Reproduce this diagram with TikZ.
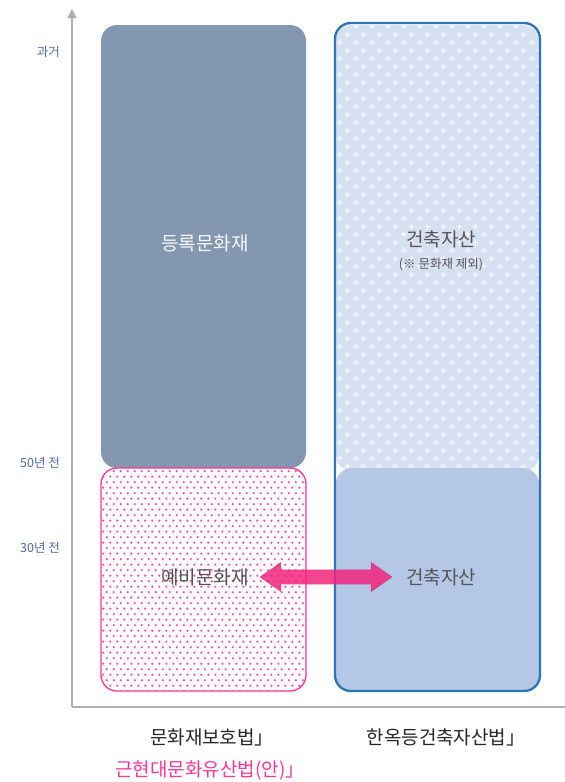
\documentclass[tikz,border=0pt]{standalone}
\usepackage{fontspec}
\setmainfont{Noto Sans CJK KR}
\usepackage{tikz}
\usetikzlibrary{patterns,shapes.arrows,arrows.meta,positioning}

\definecolor{slate}{HTML}{8497B0}
\definecolor{hotpink}{HTML}{FF3399}
\definecolor{linkpink}{HTML}{F2247E}
\definecolor{frameblue}{HTML}{2E75B6}
\definecolor{paleblue}{HTML}{D6E0F2}
\definecolor{softblue}{HTML}{B4C7E7}
\definecolor{axisgray}{HTML}{B0B0B0}
\definecolor{ticklabelblue}{HTML}{4A6AA5}
\definecolor{textgray}{HTML}{555555}

% staggered dots for the pink box
\pgfdeclarepatternformonly{bigdots}{\pgfqpoint{-1pt}{-1pt}}{\pgfqpoint{8pt}{12pt}}{\pgfqpoint{7pt}{11pt}}
{
  \pgfpathcircle{\pgfqpoint{1.75pt}{2.75pt}}{1.25pt}
  \pgfpathcircle{\pgfqpoint{5.25pt}{8.25pt}}{1.25pt}
  \pgfusepath{fill}
}
% small white crosses for the blue box
\pgfdeclarepatternformonly{sparkle}{\pgfqpoint{0pt}{0pt}}{\pgfqpoint{16pt}{16pt}}{\pgfqpoint{16pt}{16pt}}
{
  \pgfsetlinewidth{1.1pt}
  \pgfpathmoveto{\pgfqpoint{1pt}{4pt}}\pgfpathlineto{\pgfqpoint{7pt}{4pt}}
  \pgfpathmoveto{\pgfqpoint{4pt}{1pt}}\pgfpathlineto{\pgfqpoint{4pt}{7pt}}
  \pgfpathmoveto{\pgfqpoint{9pt}{12pt}}\pgfpathlineto{\pgfqpoint{15pt}{12pt}}
  \pgfpathmoveto{\pgfqpoint{12pt}{9pt}}\pgfpathlineto{\pgfqpoint{12pt}{15pt}}
  \pgfusepath{stroke}
}

\begin{document}
\begin{tikzpicture}[x=1pt,y=-1pt,
    box/.style={rectangle, rounded corners=16pt, inner sep=0pt, minimum width=205pt},
    axis/.style={draw=axisgray, line width=1.4pt},
    ticklabel/.style={text=ticklabelblue, inner sep=0pt, anchor=east, font=\fontsize{12.5}{14}\selectfont},
    boxtext/.style={font=\fontsize{19}{21}\selectfont},
    lawtext/.style={font=\fontsize{19}{21}\selectfont, text=black!85}]
    \useasboundingbox (0,0) rectangle (565,782);

    % time axis
    \coordinate (origin) at (72,707);
    \coordinate (past) at (72,9);
    \coordinate (right end) at (565,707);
    \draw[axis, -{Triangle[length=9pt,width=9pt]}] (origin) -- (past);
    \draw[axis] (origin) -- (right end);
    \foreach \y/\t in {52/과거, 463/50년 전, 548/30년 전}
      \node[ticklabel] at (60,\y) {\t};

    % left column
    \node[box, fill=slate, minimum height=443pt] (registered) at (203.5,246.5) {};
    \node[boxtext, text=white!93!slate] at (205,243) {등록문화재};
    \node[box, draw=hotpink, line width=1.3pt, pattern=bigdots, pattern color=hotpink!85,
      minimum height=223pt] (preliminary) at (203.5,579.5) {};
    \node[boxtext, text=textgray] (prelim text) at (205,577) {예비문화재};

    % right column
    \node[box, fill=paleblue, minimum width=203pt, minimum height=446pt] (asset back) at (437.5,248) {};
    \node[box, pattern=sparkle, pattern color=white, minimum width=203pt, minimum height=446pt] (asset top) at (437.5,248) {};
    \node[box, fill=softblue, minimum width=203pt, minimum height=222pt] (asset bottom) at (437.5,579) {};
    \node[box, draw=frameblue, line width=2.4pt, minimum height=668pt] (asset frame) at (437.5,357) {};
    \node[boxtext, text=textgray] (asset text) at (441,239) {건축자산};
    \node[text=textgray, font=\fontsize{12.5}{14}\selectfont, below=3pt of asset text] {(※ 문화재 제외)};
    \node[boxtext, text=textgray] (asset low text) at (441,577) {건축자산};

    % link between the two
    \node[double arrow, fill=linkpink, fill opacity=0.85, draw=linkpink!80!black, draw opacity=0.6,
      line width=0.4pt, inner xsep=0pt, inner ysep=7pt, minimum height=132pt,
      double arrow head extend=7.5pt, double arrow tip angle=70] (link) at (326,577) {};

    % acts
    \node[lawtext] (heritage act) at (212,737) {문화재보호법」};
    \node[lawtext] (hanok act) at (446,737) {한옥등건축자산법」};
    \node[lawtext, text=hotpink, below=8pt of heritage act, xshift=-2pt] {근현대문화유산법(안)」};
\end{tikzpicture}
\end{document}
